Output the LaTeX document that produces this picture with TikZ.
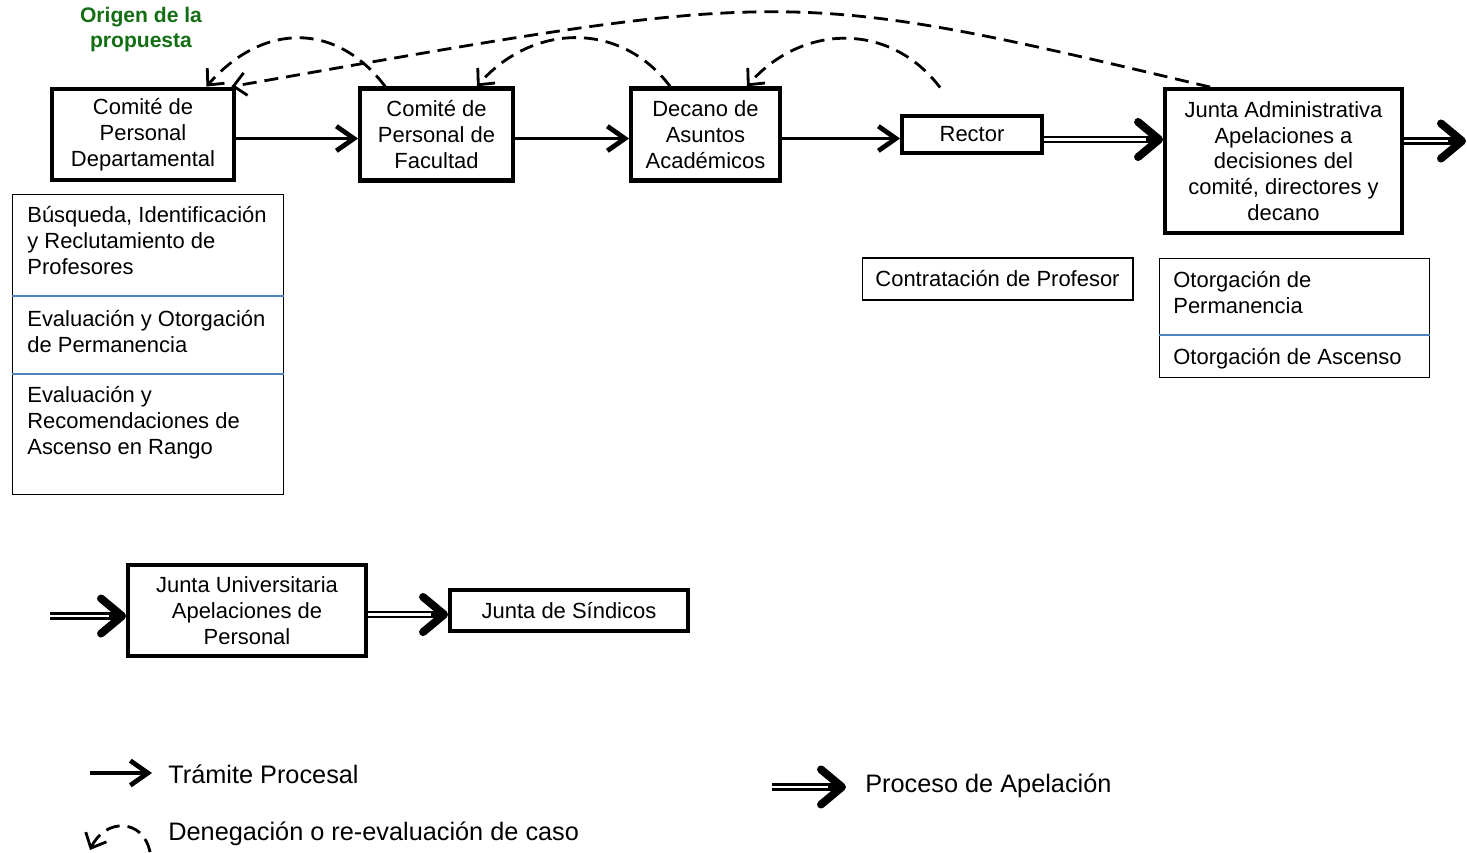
\documentclass[tikz,border=0pt]{standalone}
\usepackage{fontspec}
\setmainfont{Liberation Sans}
\usetikzlibrary{arrows.meta,calc}
\definecolor{verdeorigen}{RGB}{20,110,20}
\definecolor{azullinea}{RGB}{79,129,189}

\begin{document}
\begin{tikzpicture}[x=0.02cm, y=-0.02cm,
  caja/.style={draw, line width=2.5pt, align=center, inner sep=0pt, font=\fontsize{12.5}{14.7}\selectfont},
  lista/.style={draw, line width=0.6pt, inner sep=0pt, font=\fontsize{12.5}{14.7}\selectfont},
  texto/.style={align=left, inner sep=0pt, anchor=north west, font=\fontsize{12.5}{14.7}\selectfont},
  divisor/.style={azullinea, line width=0.8pt},
  tramite/.style={line width=2pt, -{Straight Barb[length=10pt, width=14pt, line width=2.7pt]}},
  apelacion/.style={line width=4pt, -{Straight Barb[length=12pt, width=20pt, line width=4.5pt, round]},
    postaction={draw=white, line width=1.3pt, arrows=-, shorten >=10pt}},
  denegacion/.style={line width=1.6pt, dash pattern=on 8pt off 4.5pt, -{Straight Barb[length=7pt, width=13pt, line width=1.6pt]}},
  leyenda/.style={anchor=west, inner sep=0pt, font=\fontsize{14.4}{17}\selectfont}]
  \useasboundingbox (0,0) rectangle (1467,852);

  % fila superior
  \node[align=center, text=verdeorigen, font=\bfseries\fontsize{12}{14.2}\selectfont] (origen) at (141,30) {Origen de la\\propuesta};
  \node[caja, minimum width=3.65cm, minimum height=1.83cm] (dept) at (143,134.5) {Comité de\\Personal\\Departamental};
  \node[caja, minimum width=3.05cm, minimum height=1.84cm] (fac) at (436.5,134.5) {Comité de\\Personal de\\Facultad};
  \node[caja, minimum width=2.97cm, minimum height=1.84cm] (decano) at (705.5,134.5) {Decano de\\Asuntos\\Académicos};
  \node[caja, minimum width=2.79cm, minimum height=0.75cm] (rector) at (972,134.5) {Rector};
  \node[caja, minimum width=4.73cm, minimum height=2.87cm] (jadm) at (1283.5,161) {Junta Administrativa\\Apelaciones a\\decisiones del\\comité, directores y\\decano};
  \coordinate (salida) at (1466,141);

  \draw[tramite] ($(dept.east)+(0,4)$) -- ($(fac.west)+(0,4)$);
  \draw[tramite] ($(fac.east)+(0,4)$) -- ($(decano.west)+(0,4)$);
  \draw[tramite] ($(decano.east)+(0,4)$) -- ($(rector.west)+(0,4)$);
  \draw[apelacion] ($(rector.east)+(0,5)$) -- ($(rector.east -| jadm.west)+(0,5)$);
  \draw[apelacion] (jadm.east |- salida) -- (salida);

  % devoluciones
  \draw[denegacion] ($(fac.north west)+(27,0)$) .. controls +(-50,-66) and +(55,-63) .. ($(dept.north east)+(-30,0)$);
  \draw[denegacion] ($(decano.north west)+(41,0)$) .. controls +(-50,-66) and +(55,-63) .. ($(fac.north east)+(-38,0)$);
  \draw[denegacion] ($(rector.north west)+(40,-26)$) .. controls +(-50,-66) and +(55,-63) .. ($(decano.north east)+(-35,0)$);
  \draw[denegacion] ($(jadm.north west)+(47,0)$) .. controls +(-429,-102) and +(559,-98) .. ($(dept.north east)+(-5,0)$);

  % funciones
  \node[lista, minimum width=5.42cm, minimum height=6cm, anchor=north west] (tareas) at (12,194) {};
  \draw[divisor] (tareas.west |- 0,296) -- (tareas.east |- 0,296);
  \draw[divisor] (tareas.west |- 0,374) -- (tareas.east |- 0,374);
  \node[texto] (tarea1) at (27,206) {Búsqueda, Identificación\\y Reclutamiento de\\Profesores};
  \node[texto] (tarea2) at (27,310) {Evaluación y Otorgación\\de Permanencia};
  \node[texto] (tarea3) at (27,386) {Evaluación y\\Recomendaciones de\\Ascenso en Rango};

  \node[lista, minimum width=5.42cm, minimum height=0.84cm] (contrato) at (997.5,279) {Contratación de Profesor};

  \node[lista, minimum width=5.4cm, minimum height=2.38cm, anchor=north west] (otorga) at (1159,258) {};
  \draw[divisor] (otorga.west |- 0,335) -- (otorga.east |- 0,335);
  \node[texto] (otorga1) at (1173,271) {Otorgación de\\Permanencia};
  \node[texto] (otorga2) at (1173,348) {Otorgación de Ascenso};

  % fila inferior
  \coordinate (entrada) at (50,616);
  \node[caja, minimum width=4.75cm, minimum height=1.81cm] (juniv) at (247,610.5) {Junta Universitaria\\Apelaciones de\\Personal};
  \node[caja, minimum width=4.75cm, minimum height=0.81cm] (sindicos) at (569,610.5) {Junta de Síndicos};
  \draw[apelacion] (entrada) -- (entrada -| juniv.west);
  \draw[apelacion] ($(juniv.east)+(0,4)$) -- ($(sindicos.west)+(0,4)$);

  % leyenda
  \coordinate (ley1a) at (90,773);
  \coordinate (ley1b) at (152,773);
  \draw[tramite] (ley1a) -- (ley1b);
  \node[leyenda] (ley1) at (168,774) {Trámite Procesal};
  \coordinate (ley2a) at (150,852);
  \coordinate (ley2b) at (90,850);
  \draw[denegacion] (ley2a) .. controls +(-7,-34) and +(15,-32) .. (ley2b);
  \node[leyenda] (ley2) at (168,834) {Denegación o re-evaluación de caso};
  \coordinate (ley3a) at (772,787);
  \coordinate (ley3b) at (846,787);
  \draw[apelacion] (ley3a) -- (ley3b);
  \node[leyenda] (ley3) at (865,786) {Proceso de Apelación};
\end{tikzpicture}
\end{document}
